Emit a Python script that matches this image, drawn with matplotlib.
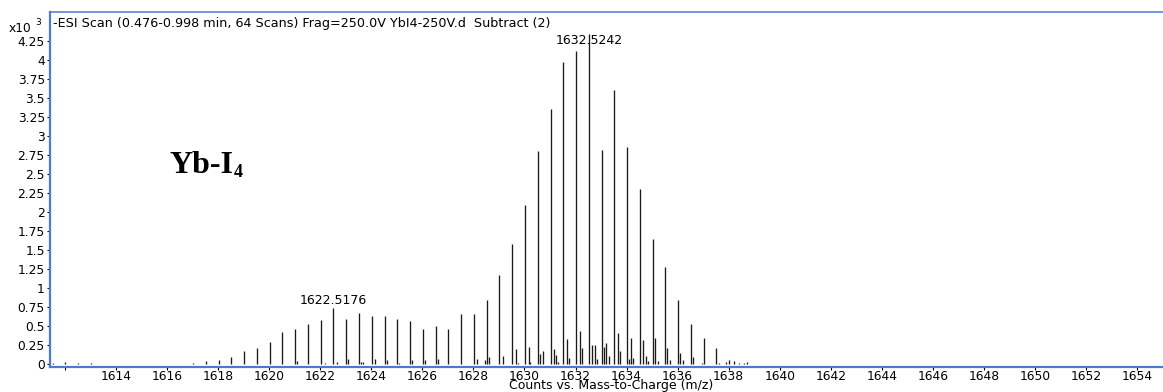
import matplotlib
matplotlib.use("Agg")
import matplotlib.pyplot as plt
import numpy as np

# Main isotope envelope of the Yb-I4 cluster (m/z, counts x10^3)
main_mz = [1611.52, 1612.02, 1612.52, 1613.02, 1616.52, 1617.02, 1617.52,
           1618.02, 1618.52, 1619.02, 1619.52, 1620.02, 1620.52, 1621.02,
           1621.52, 1622.02, 1622.5176, 1623.02, 1623.52, 1624.02, 1624.52,
           1625.02, 1625.52, 1626.02, 1626.52, 1627.02, 1627.52, 1628.02,
           1628.52, 1629.02, 1629.52, 1630.02, 1630.52, 1631.02, 1631.52,
           1632.02, 1632.5242, 1633.02, 1633.52, 1634.02, 1634.52, 1635.02,
           1635.52, 1636.02, 1636.52, 1637.02, 1637.52, 1638.02]
main_int = [0.02, 0.025, 0.02, 0.015, 0.01, 0.015, 0.04,
            0.05, 0.10, 0.17, 0.21, 0.29, 0.42, 0.46,
            0.53, 0.58, 0.74, 0.59, 0.67, 0.64, 0.63,
            0.60, 0.57, 0.46, 0.50, 0.46, 0.66, 0.66,
            0.84, 1.17, 1.58, 2.10, 2.80, 3.36, 3.98,
            4.12, 4.35, 2.82, 3.61, 2.86, 2.30, 1.65,
            1.28, 0.84, 0.535, 0.35, 0.22, 0.05]

# Minor sticks between the main peaks
minor_mz = [1621.1, 1622.2, 1622.65, 1623.1, 1623.6, 1623.68, 1624.15, 1624.6,
            1625.1, 1625.6, 1625.7, 1626.1, 1626.6, 1627.1, 1628.15, 1628.45,
            1628.62, 1629.16, 1629.65, 1629.75, 1630.16, 1630.22, 1630.61,
            1630.73, 1631.14, 1631.24, 1631.32, 1631.68, 1631.76, 1632.18,
            1632.27, 1632.66, 1632.75, 1632.83, 1633.11, 1633.2, 1633.3,
            1633.66, 1633.75, 1634.1, 1634.19, 1634.27, 1634.66, 1634.76,
            1634.85, 1635.13, 1635.22, 1635.6, 1635.7, 1636.1, 1636.22,
            1636.59, 1636.72, 1636.95, 1637.6, 1637.9, 1638.2, 1638.4,
            1638.6, 1638.7]
minor_int = [0.04, 0.02, 0.03, 0.075, 0.03, 0.03, 0.065, 0.05,
             0.02, 0.05, 0.01, 0.05, 0.065, 0.01, 0.07, 0.05,
             0.10, 0.105, 0.20, 0.02, 0.23, 0.03, 0.13,
             0.17, 0.20, 0.12, 0.03, 0.33, 0.08, 0.44,
             0.22, 0.25, 0.26, 0.07, 0.23, 0.285, 0.11,
             0.41, 0.18, 0.07, 0.34, 0.08, 0.32, 0.105,
             0.04, 0.34, 0.04, 0.21, 0.05, 0.15, 0.05,
             0.10, 0.01, 0.02, 0.02, 0.03, 0.04, 0.02,
             0.02, 0.025]

# Labelled peaks: (m/z, label height)
label_mz = [1622.5176, 1632.5242]
label_y = [0.79, 4.21]

y_ticks = np.arange(0, 4.26, 0.25)
x_ticks = np.arange(1612, 1655, 2)

title_txt = "-ESI Scan (0.476-0.998 min, 64 Scans) Frag=250.0V YbI4-250V.d  Subtract (2)"
xlabel_txt = "Counts vs. Mass-to-Charge (m/z)"

W, H = 1163, 392
blue = "#4a7bd0"
plt.rcParams["font.family"] = ["DejaVu Sans"]

fig = plt.figure(figsize=(W / 100, H / 100), dpi=100)
ax = fig.add_axes([50 / W, (H - 366.5) / H, (W - 50) / W, (366.5 - 11.5) / H])

ax.vlines(main_mz, 0, main_int, color="#1a1a1a", lw=0.95)
ax.vlines(minor_mz, 0, minor_int, color="#1a1a1a", lw=0.95)

ax.set_xlim(1611.415, 1655.01)
ax.set_ylim(-0.029, 4.642)

ax.set_yticks(y_ticks)
ax.set_yticklabels([f"{v:g}" for v in y_ticks])
ax.set_xticks(x_ticks)
ax.set_xticklabels(["" if v == 1612 else f"{v:d}" for v in x_ticks])
ax.tick_params(axis="both", direction="out", length=2.5, width=0.8,
               color="black", labelsize=8.8, pad=1.2)
ax.tick_params(axis="x", pad=0.2)

ax.spines["right"].set_visible(False)
ax.spines["left"].set_color(blue)
ax.spines["left"].set_linewidth(1.6)
ax.spines["bottom"].set_color(blue)
ax.spines["bottom"].set_linewidth(1.6)
ax.spines["top"].set_color(blue)
ax.spines["top"].set_linewidth(1.1)

ax.text(0.003, 0.985, title_txt, transform=ax.transAxes, ha="left", va="top",
        fontsize=9.2)

for mz, yl in zip(label_mz, label_y):
    ax.text(mz, yl, f"{mz:.4f}", ha="center", va="baseline", fontsize=9.0)

# Axis multiplier and x label
fig.text(20.5 / W, 1 - 28.7 / H, "x10", ha="center", va="center", fontsize=8.8)
fig.text(38 / W, 1 - 22.5 / H, "3", ha="center", va="center", fontsize=6.5)
fig.text(611 / W, 1 - 391.5 / H, xlabel_txt, ha="center", va="bottom",
         fontsize=9.0)

# Compound tag
tag = fig.text(169 / W, 1 - 173 / H, "Yb-I", ha="left", va="baseline",
               family="Liberation Serif", fontweight="bold", fontsize=23)
fig.canvas.draw()
ax.annotate("4", xy=(1, 0), xycoords=tag, xytext=(0.3, 2.5),
            textcoords="offset points", ha="left", va="baseline",
            family="Liberation Serif", fontweight="bold", fontsize=13)

fig.savefig("out.png", dpi=100)
